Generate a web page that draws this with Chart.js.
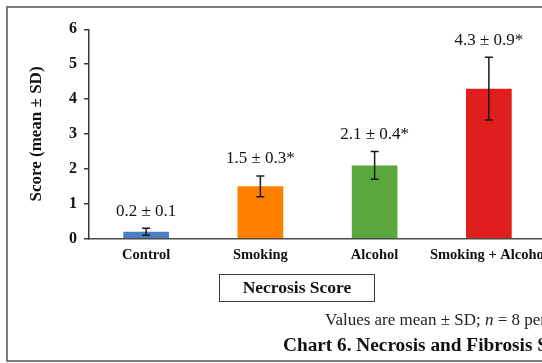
<!DOCTYPE html>
<html>
<head>
<meta charset="utf-8">
<title>Necrosis Score</title>
<script src="https://cdn.jsdelivr.net/npm/chart.js@4.4.1/dist/chart.umd.min.js"></script>
<style>
  html, body { margin: 0; padding: 0; background: #fff; width: 542px; height: 363px; overflow: hidden; position: relative; }
  #frame { position: absolute; left: 6px; top: 6px; width: 620px; height: 356px; border: 2px solid #7a7a7a; box-sizing: border-box; }
  #plot { position: absolute; left: 0; top: 0; }
  #scoreBox { position: absolute; left: 219px; top: 274px; width: 156px; height: 28px; border: 1.5px solid #3a3a3a; box-sizing: border-box;
              font: bold 17.5px "Liberation Serif", "Times New Roman", serif; color: #111; text-align: center; line-height: 25px; }
  #note { position: absolute; left: 325px; top: 311px; font: 17px "Liberation Serif", "Times New Roman", serif; color: #222; white-space: nowrap; line-height: 1; }
  #caption { position: absolute; left: 283px; top: 335px; font: bold 19.3px "Liberation Serif", "Times New Roman", serif; color: #111; white-space: nowrap; line-height: 1; }
</style>
</head>
<body>
<div id="frame"></div>
<canvas id="plot" width="590" height="280"></canvas>
<div id="scoreBox">Necrosis Score</div>
<div id="note">Values are mean ± SD; <i>n</i> = 8 per group</div>
<div id="caption">Chart 6. Necrosis and Fibrosis Scores</div>

<script>
// Groups and their necrosis scores (mean ± SD)
const groups = ['Control', 'Smoking', 'Alcohol', 'Smoking + Alcohol'];
const meanScores = [0.2, 1.5, 2.1, 4.3];
const sdScores = [0.1, 0.3, 0.4, 0.9];
const significance = ['', '*', '*', '*'];
const barColors = ['#4a7ec4', '#ff8000', '#5aa83c', '#e01e1e'];
const yTicks = [0, 1, 2, 3, 4, 5, 6];

const SERIF = '"Liberation Serif", "Times New Roman", serif';

// Error bars (mean ± SD) plus the value label above each bar
const errorBarPlugin = {
  id: 'errorBars',
  afterDatasetsDraw(chart) {
    const { ctx } = chart;
    const y = chart.scales.y;
    const meta = chart.getDatasetMeta(0);
    ctx.save();
    meta.data.forEach((bar, i) => {
      const m = meanScores[i], s = sdScores[i];
      const top = y.getPixelForValue(m + s);
      const bottom = y.getPixelForValue(m - s);
      const cap = 4;
      ctx.strokeStyle = '#1a1a1a';
      ctx.lineWidth = 1.5;
      ctx.beginPath();
      ctx.moveTo(bar.x, top); ctx.lineTo(bar.x, bottom);
      ctx.moveTo(bar.x - cap, top); ctx.lineTo(bar.x + cap, top);
      ctx.moveTo(bar.x - cap, bottom); ctx.lineTo(bar.x + cap, bottom);
      ctx.stroke();

      ctx.fillStyle = '#111';
      ctx.font = '17px ' + SERIF;
      ctx.textAlign = 'center';
      ctx.textBaseline = 'middle';
      ctx.fillText(m.toFixed(1) + ' ± ' + s.toFixed(1) + significance[i], bar.x, top - 17);
    });
    ctx.restore();
  }
};

new Chart(document.getElementById('plot'), {
  type: 'bar',
  data: {
    labels: groups,
    datasets: [{
      data: meanScores,
      backgroundColor: barColors,
      borderWidth: 0,
      barPercentage: 0.4,
      categoryPercentage: 1.0
    }]
  },
  options: {
    responsive: false,
    animation: false,
    devicePixelRatio: 1,
    layout: { padding: { top: 29.3, left: 0, right: 44, bottom: 0 } },
    plugins: { legend: { display: false }, tooltip: { enabled: false } },
    scales: {
      x: {
        grid: { display: false, drawTicks: false },
        border: { display: true, color: '#4a4a4a', width: 1.5 },
        ticks: { color: '#111', padding: 8, maxRotation: 0, minRotation: 0, autoSkip: false,
                 font: { family: SERIF, size: 14.5, weight: 'bold' } },
        afterFit(scale) { scale.height = 280 - 238.7; }
      },
      y: {
        min: 0,
        max: 6,
        afterBuildTicks(scale) { scale.ticks = yTicks.map(v => ({ value: v })); },
        grid: { display: true, drawOnChartArea: false, drawTicks: true, tickLength: 5, color: '#3a3a3a', lineWidth: 1.5 },
        border: { display: true, color: '#3a3a3a', width: 1.5 },
        ticks: { color: '#111', padding: 7, font: { family: SERIF, size: 16, weight: 'bold' } },
        title: {
          display: true,
          text: 'Score (mean ± SD)',
          color: '#111',
          font: { family: SERIF, size: 17, weight: 'bold' },
          padding: { top: 26.5, bottom: 0 }
        },
        afterFit(scale) { scale.width = 89; }
      }
    }
  },
  plugins: [errorBarPlugin]
});
</script>
</body>
</html>
